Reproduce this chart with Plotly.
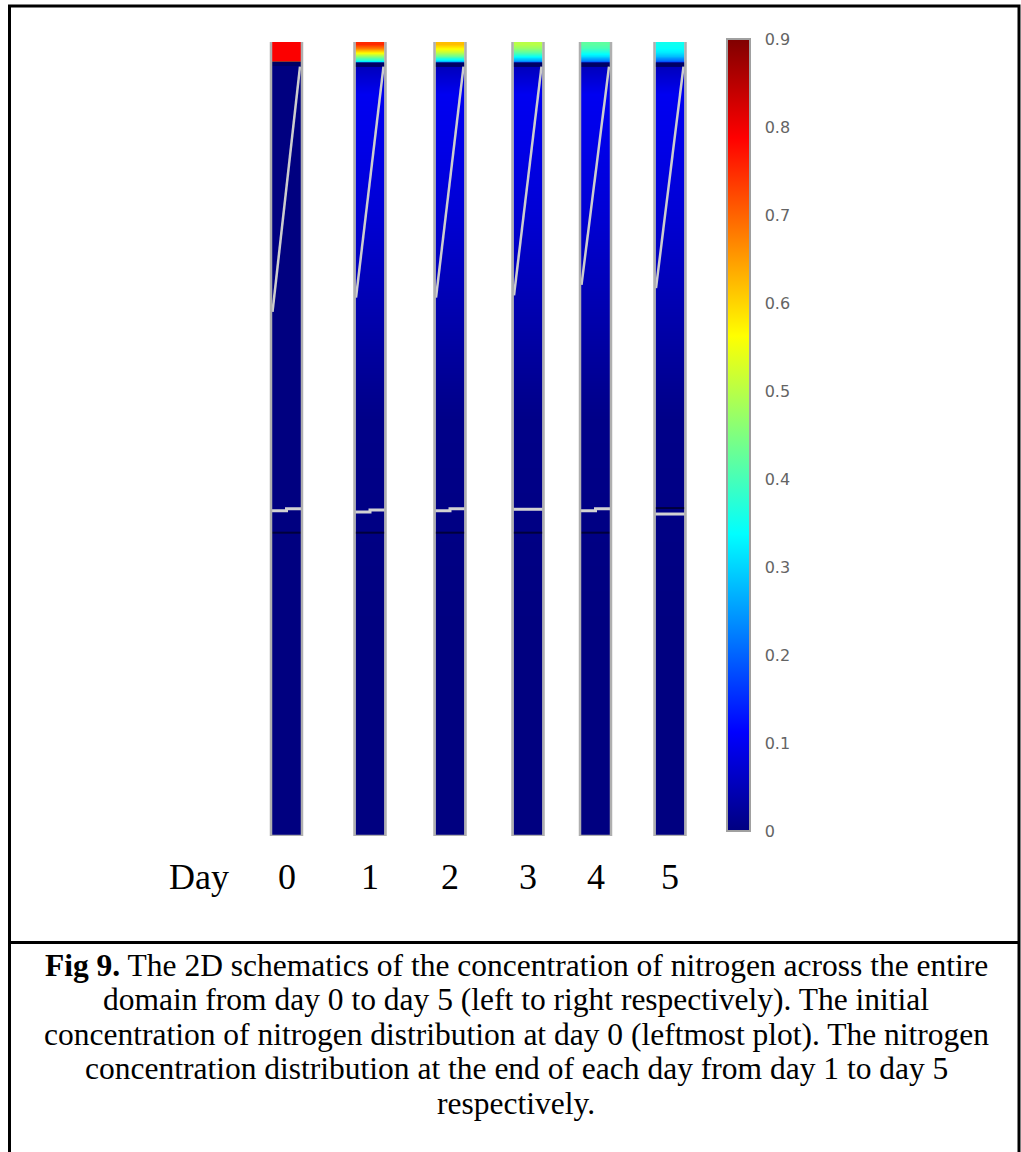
import plotly.graph_objects as go

W, H = 1021, 1152

# ---------------- data ----------------
days = [0, 1, 2, 3, 4, 5]
# normalized depth cell edges (0 = top of domain, 1 = bottom)
depth_edges = [0.0, 0.005, 0.010, 0.015, 0.020, 0.026, 0.031,
               0.10, 0.175, 0.25, 0.325, 0.40, 0.475, 1.0]
conc_day0 = [0.79, 0.79, 0.79, 0.79, 0.79, 0.0, 0.0, 0.0, 0.0, 0.0, 0.0, 0.0, 0.0]
conc_day1 = [0.75, 0.68, 0.58, 0.47, 0.36, 0.01, 0.10, 0.09, 0.075, 0.055, 0.035, 0.015, 0.0]
conc_day2 = [0.62, 0.57, 0.51, 0.43, 0.31, 0.01, 0.10, 0.09, 0.075, 0.055, 0.035, 0.015, 0.0]
conc_day3 = [0.50, 0.47, 0.42, 0.35, 0.26, 0.01, 0.10, 0.09, 0.075, 0.055, 0.035, 0.015, 0.0]
conc_day4 = [0.42, 0.40, 0.36, 0.31, 0.23, 0.01, 0.10, 0.09, 0.075, 0.055, 0.035, 0.015, 0.0]
conc_day5 = [0.35, 0.34, 0.32, 0.28, 0.21, 0.01, 0.10, 0.09, 0.075, 0.055, 0.035, 0.015, 0.0]
conc = [conc_day0, conc_day1, conc_day2, conc_day3, conc_day4, conc_day5]

# internal boundaries of the schematic (normalized depth)
top_boundary_depth = [0.0275, 0.0285, 0.0285, 0.0285, 0.0285, 0.0285]
diag_start_depth = [0.031, 0.031, 0.031, 0.031, 0.031, 0.031]
diag_end_depth = [0.340, 0.322, 0.322, 0.319, 0.306, 0.310]
interface_left_depth = [0.5903, 0.5919, 0.5903, 0.5885, 0.5903, 0.5945]
interface_right_depth = [0.5878, 0.5894, 0.5878, 0.5885, 0.5878, 0.5945]
dark_line_depth = [0.618, 0.618, 0.618, 0.618, 0.618, 0.587]

cbar_ticks = [0, 0.1, 0.2, 0.3, 0.4, 0.5, 0.6, 0.7, 0.8, 0.9]
cbar_ticktext = ["0", "0.1", "0.2", "0.3", "0.4", "0.5", "0.6", "0.7", "0.8", "0.9"]

caption_lines = [
    "<b>Fig 9.</b> The 2D schematics of the concentration of nitrogen across the entire",
    "domain from day 0 to day 5 (left to right respectively). The initial",
    "concentration of nitrogen distribution at day 0 (leftmost plot). The nitrogen",
    "concentration distribution at the end of each day from day 1 to day 5",
    "respectively.",
]

# ---------------- layout helpers ----------------
col_cx = [286.5, 370, 450, 528, 595.5, 670]
col_w = 29
plot_top_px, plot_bot_px = 42, 836
caption_y_px = [965, 999.5, 1034, 1068.5, 1103]

jet = [[0.0, "rgb(0,0,128)"], [0.125, "rgb(0,0,255)"], [0.375, "rgb(0,255,255)"],
       [0.625, "rgb(255,255,0)"], [0.875, "rgb(255,0,0)"], [1.0, "rgb(128,0,0)"]]

fig = go.Figure()

for i, d in enumerate(days):
    l, c, r = col_cx[i] - col_w / 2, col_cx[i], col_cx[i] + col_w / 2
    fig.add_trace(go.Heatmap(
        x=[l, c, r], y=depth_edges, z=[[v, v] for v in conc[i]],
        colorscale=jet, zmin=0, zmax=0.9, zsmooth="best",
        showscale=(i == 0), hoverinfo="skip",
        colorbar=dict(
            x=727 / W, xanchor="left", xpad=0,
            y=1 - (39 + 831) / 2 / H, yanchor="middle", ypad=0,
            lenmode="pixels", len=792, thickness=23,
            outlinewidth=2, outlinecolor="rgb(160,160,160)",
            tickvals=cbar_ticks, ticktext=cbar_ticktext,
            ticks="outside", ticklen=11, tickcolor="rgba(0,0,0,0)",
            tickfont=dict(family="DejaVu Sans", size=16, color="rgb(100,100,100)"),
        ),
    ))

for i, d in enumerate(days):
    l, c, r = col_cx[i] - col_w / 2, col_cx[i], col_cx[i] + col_w / 2
    # dark boundary under the top layer
    fig.add_trace(go.Scatter(x=[l, r], y=[top_boundary_depth[i]] * 2, mode="lines",
                             line=dict(color="rgb(0,0,100)", width=4.5),
                             showlegend=False, hoverinfo="skip"))
    # dark subdomain boundary
    fig.add_trace(go.Scatter(x=[l, r], y=[dark_line_depth[i]] * 2, mode="lines",
                             line=dict(color="rgb(0,0,60)", width=2),
                             showlegend=False, hoverinfo="skip"))
    # diagonal boundary
    fig.add_trace(go.Scatter(x=[r - 1, l + 0.5], y=[diag_start_depth[i], diag_end_depth[i]],
                             mode="lines", line=dict(color="rgb(205,205,205)", width=2.5),
                             showlegend=False, hoverinfo="skip"))
    # horizontal interface
    fig.add_trace(go.Scatter(x=[l - 1, c, c, r + 1],
                             y=[interface_left_depth[i], interface_left_depth[i],
                                interface_right_depth[i], interface_right_depth[i]],
                             mode="lines", line=dict(color="rgb(210,210,210)", width=3),
                             showlegend=False, hoverinfo="skip"))

shapes = []
for i in range(len(days)):
    shapes.append(dict(type="rect", xref="x", yref="y",
                       x0=col_cx[i] - col_w / 2 - 1, x1=col_cx[i] + col_w / 2 + 1,
                       y0=-0.002, y1=1.0,
                       line=dict(color="rgb(175,175,175)", width=2.5), layer="above"))
# outer frame and separator
shapes.append(dict(type="rect", xref="paper", yref="paper",
                   x0=9.5 / W, x1=1019 / W, y0=-0.05, y1=1 - 6 / H,
                   line=dict(color="black", width=3)))
shapes.append(dict(type="line", xref="paper", yref="paper",
                   x0=9.5 / W, x1=1019 / W, y0=1 - 942.5 / H, y1=1 - 942.5 / H,
                   line=dict(color="black", width=3)))

label_font = dict(family="Liberation Serif", size=36, color="black")
annotations = [dict(text="Day", x=199, xref="x", y=1 - 877 / H, yref="paper",
                    showarrow=False, xanchor="center", yanchor="middle", font=label_font)]
for i, d in enumerate(days):
    annotations.append(dict(text=str(d), x=col_cx[i], xref="x", y=1 - 877 / H, yref="paper",
                            showarrow=False, xanchor="center", yanchor="middle",
                            font=label_font))
for k, line in enumerate(caption_lines):
    annotations.append(dict(text=line, x=516 / W, xref="paper", y=1 - caption_y_px[k] / H,
                            yref="paper", showarrow=False, xanchor="center", yanchor="middle",
                            font=dict(family="Liberation Serif", size=31.5, color="black")))

fig.update_layout(
    width=W, height=H, margin=dict(l=0, r=0, t=0, b=0),
    paper_bgcolor="white", plot_bgcolor="white",
    xaxis=dict(range=[0, W], domain=[0, 1], visible=False, fixedrange=True),
    yaxis=dict(range=[1, 0], domain=[1 - plot_bot_px / H, 1 - plot_top_px / H],
               visible=False, fixedrange=True),
    shapes=shapes, annotations=annotations, showlegend=False,
)

fig.write_html("out.html")
